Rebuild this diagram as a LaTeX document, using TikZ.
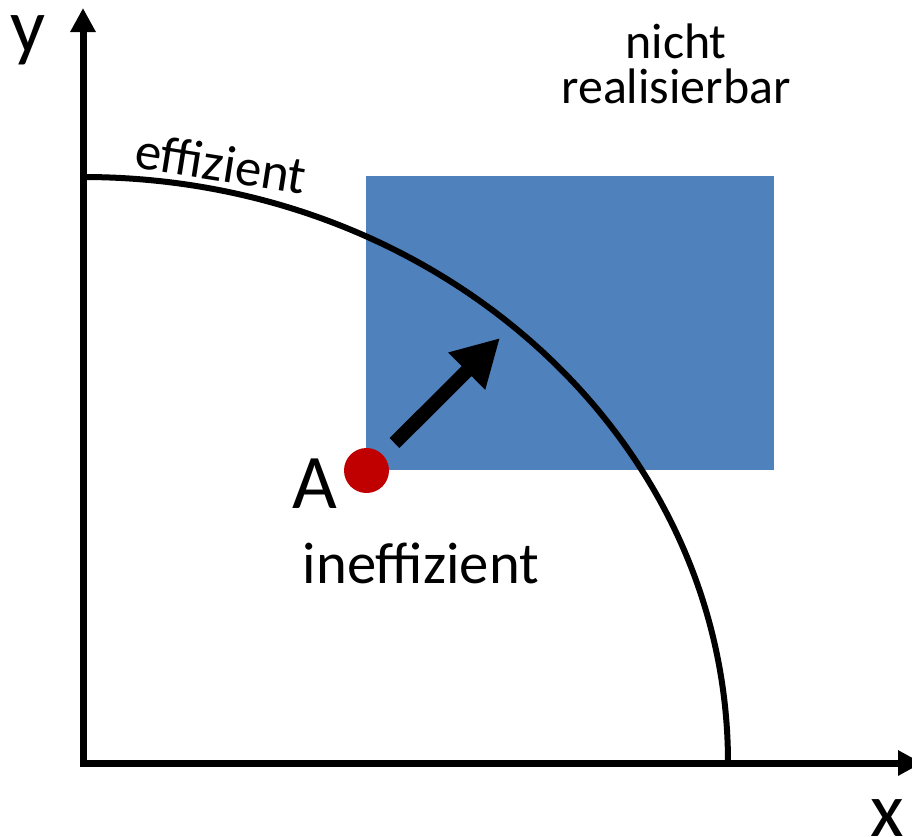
\documentclass[tikz,border=0pt]{standalone}
\usepackage{fontspec}
\setmainfont{Carlito}
\usetikzlibrary{arrows.meta}
\definecolor{feldblau}{RGB}{79,129,189}
\definecolor{punktrot}{RGB}{192,0,0}
\tikzset{
    achse/.style={line width=0.07cm, {Triangle[length=0.24cm,width=0.24cm]}-{Triangle[length=0.24cm,width=0.24cm]}},
    gross/.style={font=\fontsize{22}{24}\selectfont, inner sep=0pt, anchor=base},
    mittel/.style={font=\fontsize{14.2}{13}\selectfont, inner sep=0pt}
}
\begin{document}
\begin{tikzpicture}
    \useasboundingbox (0,0) rectangle (9.12,8.36);
    \coordinate (O) at (0.83,0.73);
    \coordinate (ytip) at (0.83,8.28);
    \coordinate (xtip) at (9.22,0.73);
    \coordinate (kstart) at (0.83,6.59);
    \fill[feldblau] (3.66,3.66) rectangle (7.74,6.60);
    \draw[line width=0.06cm] (kstart) arc[start angle=90, end angle=0, x radius=6.45, y radius=5.86];
    \draw[achse] (ytip) -- (O) -- (xtip);
    \node[circle, fill=punktrot, minimum size=0.45cm, inner sep=0pt] (A) at (3.665,3.655) {};
    \coordinate (pfeilstart) at (3.945,3.93);
    \coordinate (pfeilende) at (5.00,4.98);
    \draw[line width=0.14cm, -{Triangle[length=0.47cm,width=0.49cm]}] (pfeilstart) -- (pfeilende);
    \node[gross] (ylab) at (0.285,7.84) {y};
    \node[gross] (xlab) at (8.875,0.0) {x};
    \node[gross] (Alab) at (3.15,3.28) {A};
    \node[mittel, font=\fontsize{16.7}{18}\selectfont, anchor=base] (ineff) at (4.21,2.53) {ineffizient};
    \node[mittel, font=\fontsize{15}{16}\selectfont, rotate=-9] (eff) at (2.21,6.73) {effizient};
    \node[mittel, align=center] (nrb) at (6.76,7.72) {nicht\\realisierbar};
\end{tikzpicture}
\end{document}
